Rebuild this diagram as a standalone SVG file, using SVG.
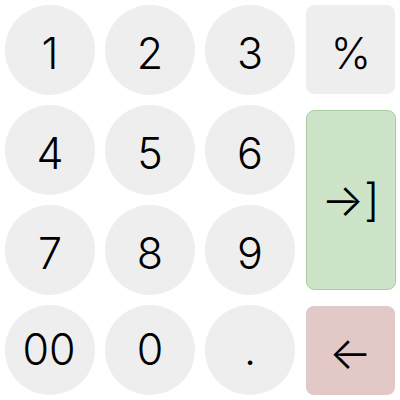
<svg xmlns="http://www.w3.org/2000/svg" width="400" height="400" viewBox="0 0 400 400">
<style>
.k{fill:#eeeeee}
.t{font-family:Inter,Roboto,"Liberation Sans",sans-serif;font-size:43px;font-weight:300;fill:#000;text-anchor:middle}
.a{font-family:Inter,"Noto Sans",sans-serif;font-size:45px;font-weight:300;fill:#000;text-anchor:middle}
</style>
<rect width="400" height="400" fill="#ffffff"/>
<g id="key-1"><circle class="k" cx="50" cy="50" r="45"/><text class="t" x="50" y="69">1</text></g>
<g id="key-2"><circle class="k" cx="150" cy="50" r="45"/><text class="t" x="150" y="69">2</text></g>
<g id="key-3"><circle class="k" cx="250" cy="50" r="45"/><text class="t" x="250" y="69">3</text></g>
<g id="key-percent"><rect class="k" x="306" y="5" width="89" height="89" rx="8"/><text class="t" x="351" y="69">%</text></g>
<g id="key-4"><circle class="k" cx="50" cy="150" r="45"/><text class="t" x="50" y="169">4</text></g>
<g id="key-5"><circle class="k" cx="150" cy="150" r="45"/><text class="t" x="150" y="169">5</text></g>
<g id="key-6"><circle class="k" cx="250" cy="150" r="45"/><text class="t" x="250" y="169">6</text></g>
<g id="key-enter"><rect x="306.5" y="110.5" width="89" height="179" rx="8" fill="#cde4c9" stroke="#a8cba2" stroke-width="1"/><text class="a" x="350.5" y="216">→]</text></g>
<g id="key-7"><circle class="k" cx="50" cy="250" r="45"/><text class="t" x="50" y="269">7</text></g>
<g id="key-8"><circle class="k" cx="150" cy="250" r="45"/><text class="t" x="150" y="269">8</text></g>
<g id="key-9"><circle class="k" cx="250" cy="250" r="45"/><text class="t" x="250" y="269">9</text></g>
<g id="key-00"><circle class="k" cx="50" cy="350" r="45"/><text class="t" x="49" y="364.5">00</text></g>
<g id="key-0"><circle class="k" cx="150" cy="350" r="45"/><text class="t" x="150" y="364.5">0</text></g>
<g id="key-dot"><circle class="k" cx="250" cy="350" r="45"/><text class="t" x="250" y="364.5">.</text></g>
<g id="key-back"><rect x="306" y="306" width="89" height="89" rx="8" fill="#e3c8c8"/><text class="a" x="350.5" y="369">←</text></g>
<g id="connectors"></g>
</svg>
